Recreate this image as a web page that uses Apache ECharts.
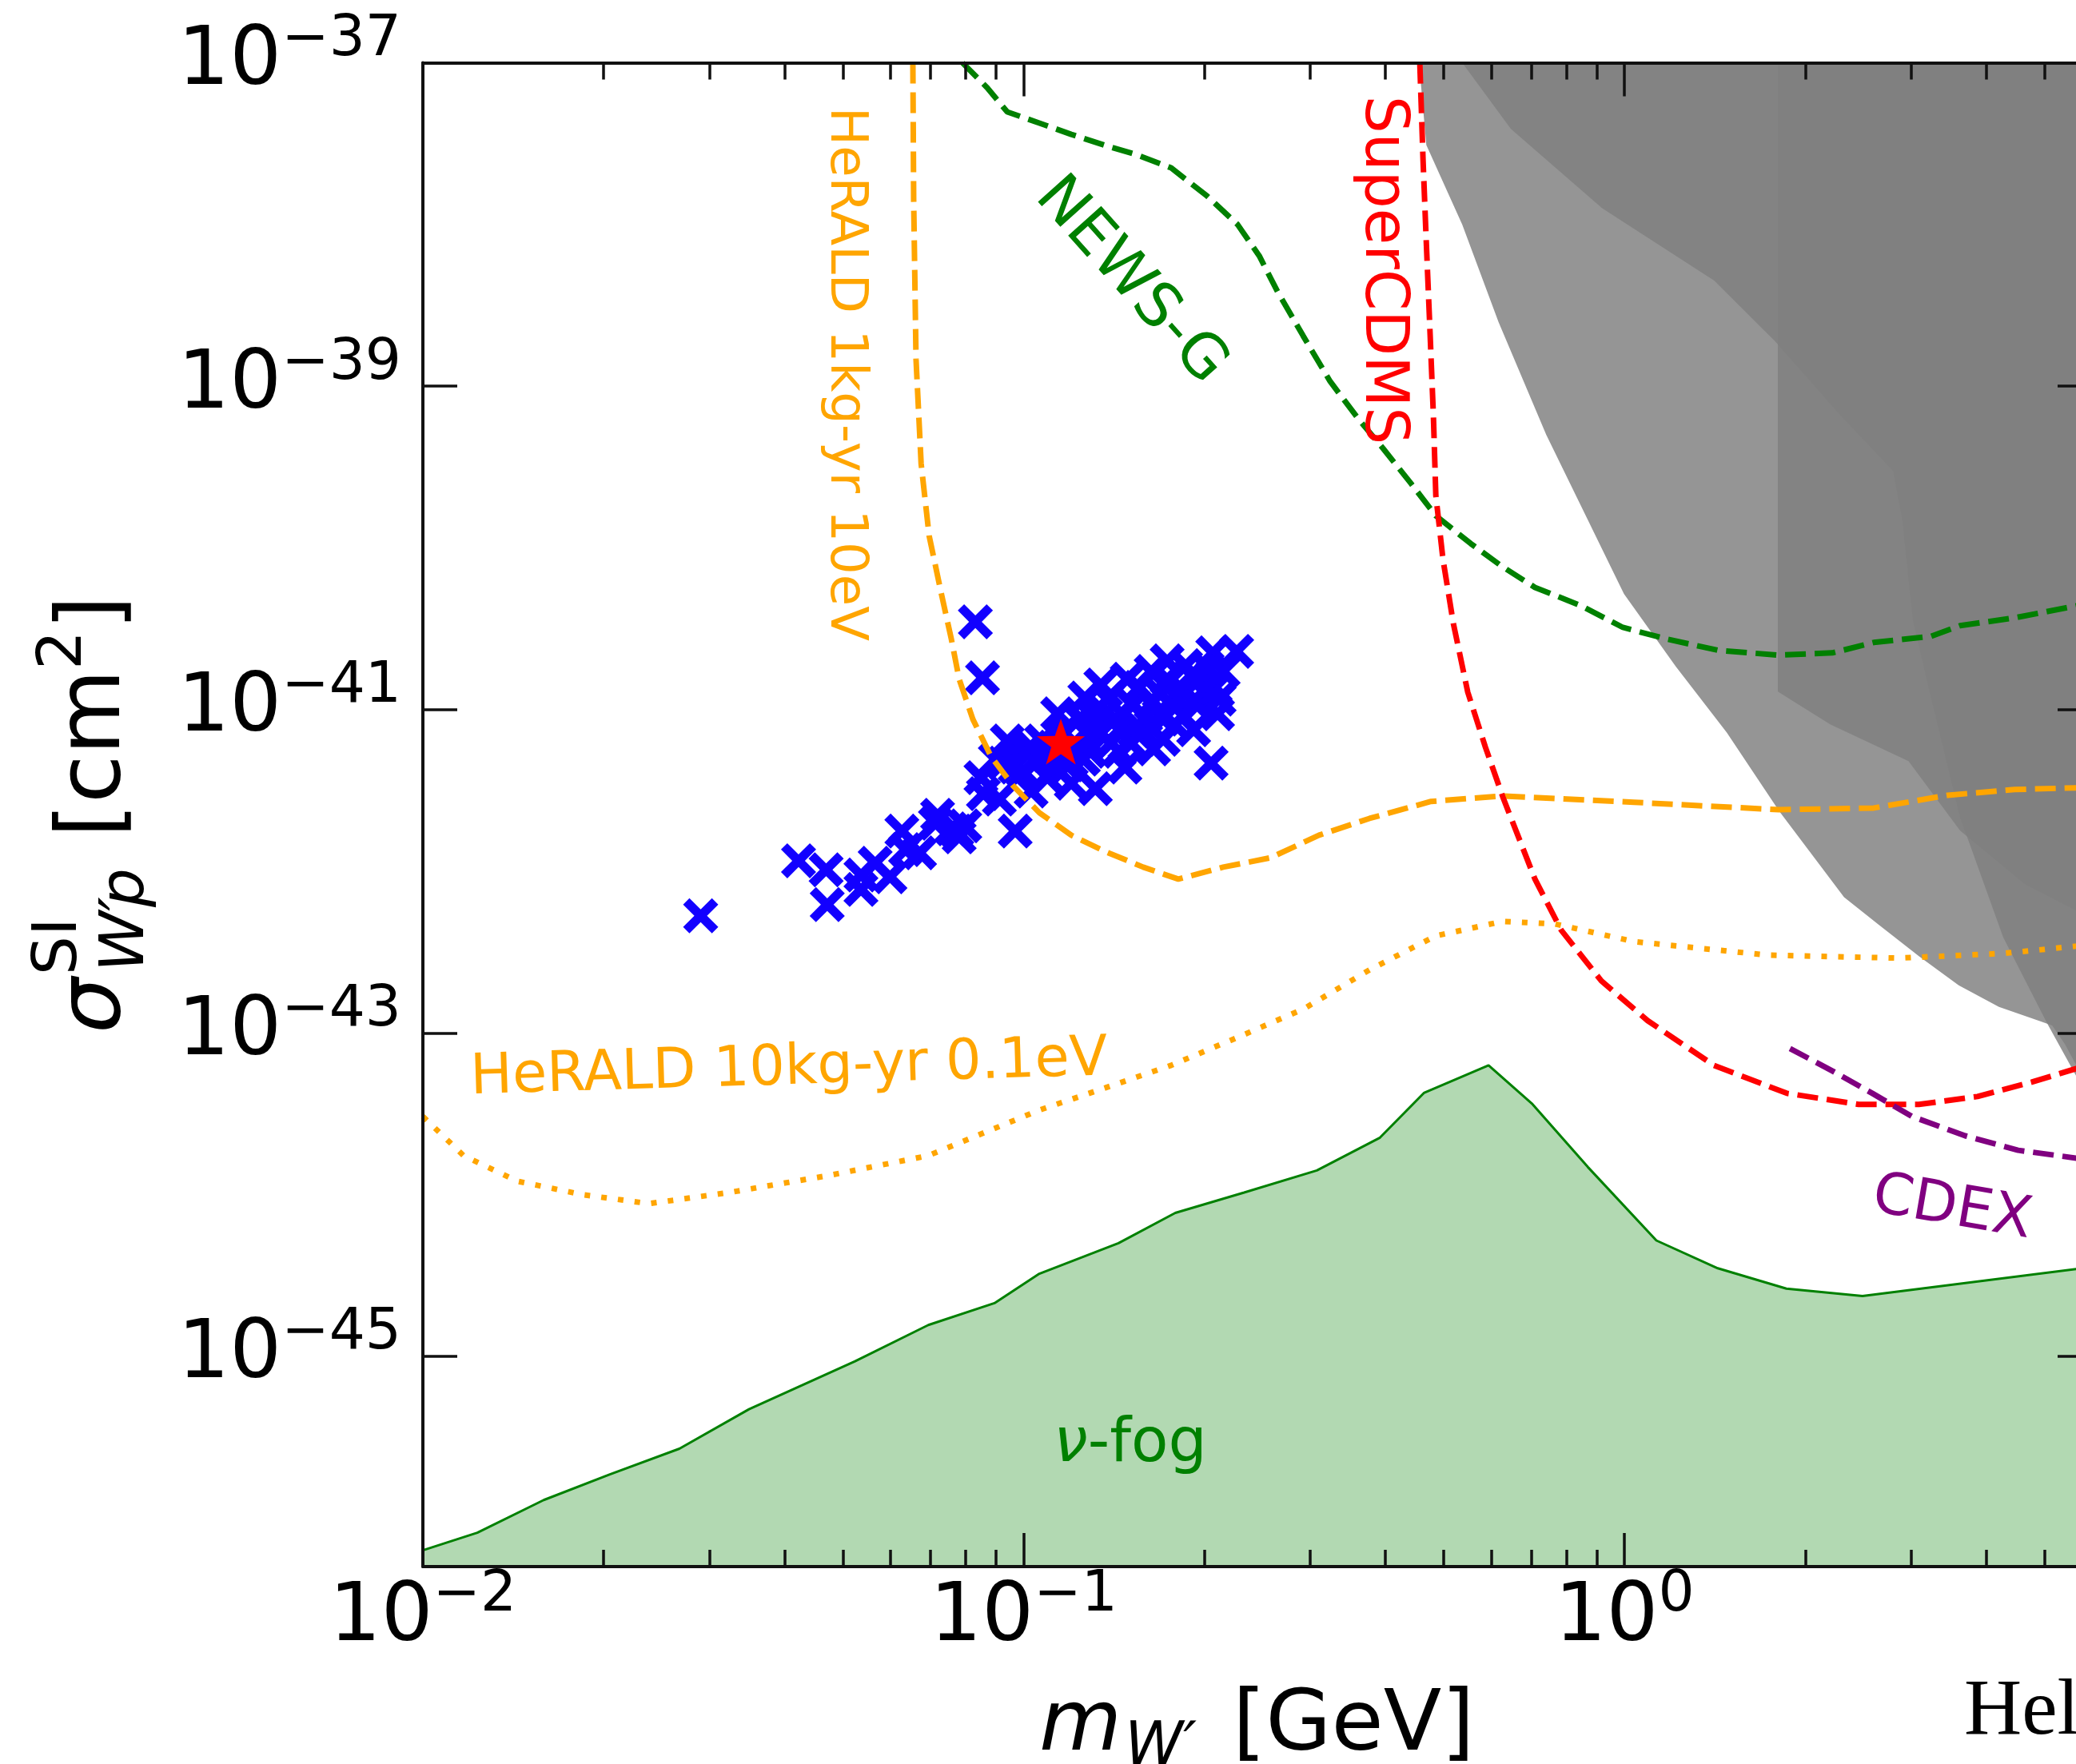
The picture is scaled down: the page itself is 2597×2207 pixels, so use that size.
<!DOCTYPE html>
<html>
<head>
<meta charset="utf-8">
<script src="https://cdn.jsdelivr.net/npm/echarts@6.0.0/dist/echarts.min.js"></script>
<style>
html, body { margin: 0; padding: 0; background: #fff; }
#chart { width: 2597px; height: 2207px; }
</style>
</head>
<body>
<div id="chart"></div>
<script>
// axis ranges and ticks (GeV, cm^2)
var xMin = 0.01, xMax = 6;
var yMin = 5e-47, yMax = 1e-37;
var xMajorTicks = [0.01, 0.1, 1];
var xMinorTicks = [0.02, 0.03, 0.04, 0.05, 0.06, 0.07, 0.08, 0.09,
                   0.2, 0.3, 0.4, 0.5, 0.6, 0.7, 0.8, 0.9, 2, 3, 4, 5, 6];
var yMajorTicks = [1e-45, 1e-43, 1e-41, 1e-39, 1e-37];

// neutrino fog
var fogMass = [0.01, 0.01232, 0.01589, 0.02048, 0.02673, 0.0349, 0.0524, 0.0694, 0.0894, 0.1062, 0.1438, 0.1788,
               0.2328, 0.3076, 0.3918, 0.4636, 0.594, 0.701, 0.869, 1.13, 1.43, 1.86, 2.49, 5.65, 6.0];
var fogSigma = [6.3e-47, 8.1e-47, 1.29e-46, 1.86e-46, 2.68e-46, 4.7e-46, 9.3e-46, 1.56e-45, 2.13e-45, 3.24e-45, 5.0e-45, 7.7e-45,
                1.03e-44, 1.41e-44, 2.25e-44, 4.25e-44, 6.3e-44, 3.66e-44, 1.48e-44, 5.2e-45, 3.5e-45, 2.62e-45, 2.36e-45, 3.46e-45, 3.55e-45];

// gray excluded regions
var grayAMass = [0.455, 0.468, 0.537, 0.617, 0.741, 0.998, 1.217, 1.48, 1.81, 2.32, 2.65, 3.09, 3.60, 4.20, 4.89, 5.15, 5.41, 5.65, 6.0];
var grayASigma = [1e-37, 3.1e-38, 1.0e-38, 2.5e-39, 5.0e-40, 5.2e-41, 1.85e-41, 7.2e-42, 2.35e-42, 6.9e-43, 4.67e-43, 2.98e-43,
                  1.97e-43, 1.45e-43, 1.19e-43, 1.11e-43, 8.5e-44, 6.3e-44, 4.1e-44];
var grayBMass = [1.80, 2.20, 2.97, 3.62, 4.64, 5.65, 6.0];
var grayBSigma = [1.29e-41, 8.1e-42, 4.8e-42, 1.78e-42, 8.3e-43, 5.7e-43, 5.2e-43];
var grayCMass = [0.537, 0.647, 0.918, 1.41, 1.78, 2.28, 2.80, 2.90, 3.02, 3.22, 3.62, 4.27, 5.05, 5.65, 6.0];
var grayCSigma = [1e-37, 3.9e-38, 1.26e-38, 4.5e-39, 1.9e-39, 6.7e-40, 3.0e-40, 1.5e-40, 3.6e-41, 1.29e-41, 2.15e-42, 3.9e-43,
                  1.15e-43, 5.4e-44, 4e-44];

// HeRALD 1kg-yr 10eV
var herald1Mass = [0.0654, 0.0656, 0.0662, 0.0675, 0.0696, 0.0728, 0.0758, 0.0781, 0.0823, 0.0883, 0.0960, 0.1062, 0.1200, 0.1369,
                   0.1581, 0.1809, 0.2148, 0.2574, 0.3102, 0.3763, 0.4764, 0.626, 1.037, 1.807, 2.60, 3.45, 4.46, 6.0];
var herald1Sigma = [1e-37, 1.42e-38, 1.46e-39, 3.32e-40, 1.19e-40, 5.38e-41, 2.72e-41, 1.54e-41, 8.71e-42, 5.10e-42, 3.38e-42, 2.30e-42,
                    1.67e-42, 1.32e-42, 1.06e-42, 8.93e-43, 1.06e-42, 1.21e-42, 1.67e-42, 2.12e-42, 2.70e-42, 2.92e-42, 2.67e-42,
                    2.40e-42, 2.46e-42, 2.95e-42, 3.20e-42, 3.30e-42];

// HeRALD 10kg-yr 0.1eV
var herald2Mass = [0.01, 0.01169, 0.01436, 0.01851, 0.0238, 0.03234, 0.04728, 0.06934, 0.1062, 0.1369, 0.1760, 0.2270, 0.2927,
                   0.3775, 0.4853, 0.626, 0.766, 1.037, 1.726, 2.86, 4.27, 5.65, 6.0];
var herald2Sigma = [3.04e-44, 1.74e-44, 1.21e-44, 9.96e-45, 8.79e-45, 1.03e-44, 1.31e-44, 1.74e-44, 3.33e-44, 4.58e-44, 6.30e-44,
                    9.38e-44, 1.41e-43, 2.47e-43, 3.98e-43, 4.89e-43, 4.72e-43, 3.67e-43, 3.03e-43, 2.90e-43, 3.10e-43, 3.44e-43, 3.6e-43];

// NEWS-G
var newsMass = [0.0791, 0.0870, 0.0939, 0.1062, 0.1200, 0.1369, 0.1533, 0.1760, 0.2020, 0.2270, 0.2466, 0.2646, 0.2918, 0.3237,
                0.3615, 0.3964, 0.4413, 0.4853, 0.5553, 0.626, 0.7096, 0.8474, 0.9938, 1.180, 1.436, 1.807, 2.218, 2.60, 3.24,
                3.62, 4.46, 5.65, 6.0];
var newsSigma = [1e-37, 7.0e-38, 4.97e-38, 4.24e-38, 3.61e-38, 3.08e-38, 2.72e-38, 2.24e-38, 1.50e-38, 1.0e-38, 6.41e-39, 3.84e-39,
                 2.05e-39, 1.07e-39, 6.21e-40, 4.12e-40, 2.50e-40, 1.58e-40, 1.06e-40, 7.66e-41, 5.69e-41, 4.38e-41, 3.22e-41,
                 2.72e-41, 2.32e-41, 2.17e-41, 2.24e-41, 2.60e-41, 2.84e-41, 3.30e-41, 3.69e-41, 4.38e-41, 4.69e-41];

// SuperCDMS
var cdmsMass = [0.4564, 0.4621, 0.4677, 0.4749, 0.4808, 0.4853, 0.4988, 0.5190, 0.5485, 0.5869, 0.628, 0.7096, 0.785, 0.915,
                1.093, 1.409, 1.863, 2.454, 3.09, 3.87, 4.76, 5.65, 6.0];
var cdmsSigma = [1e-37, 2.51e-38, 8.05e-39, 2.05e-39, 6.58e-40, 2.11e-40, 8.48e-41, 3.41e-41, 1.28e-41, 5.85e-42, 2.85e-42,
                 8.93e-43, 4.31e-43, 2.10e-43, 1.19e-43, 6.30e-44, 4.23e-44, 3.61e-44, 3.61e-44, 4.04e-44, 4.96e-44, 6.02e-44, 6.52e-44];

// CDEX
var cdexMass = [1.886, 2.218, 2.585, 3.01, 3.69, 4.52, 5.65, 6.0];
var cdexSigma = [8.0e-44, 5.82e-44, 4.23e-44, 3.04e-44, 2.31e-44, 1.88e-44, 1.68e-44, 1.63e-44];

// model points (blue crosses) and benchmark (red star)
var pointMass = [0.0290, 0.0422, 0.0469, 0.0471, 0.0536, 0.0536, 0.0566, 0.0599, 0.0627, 0.0636, 0.0671, 0.0713, 0.0719, 0.0758,
                 0.0774, 0.0781, 0.0798, 0.0857, 0.0831, 0.0854, 0.0849, 0.0968, 0.0939, 0.1008, 0.1139, 0.1237, 0.1344, 0.1487,
                 0.1630, 0.1733, 0.1860, 0.2064, 0.2262, 0.2102, 0.2051, 0.1918, 0.1645, 0.1474, 0.1316, 0.1200, 0.1095, 0.1442,
                 0.1596, 0.1771, 0.1787, 0.1288, 0.1369, 0.1071, 0.1860, 0.1681, 0.1519, 0.1959, 0.1264, 0.1189, 0.1029, 0.0911,
                 0.1062, 0.1164, 0.1398, 0.1533, 0.1707, 0.1959, 0.2083, 0.2020, 0.2148, 0.0968, 0.0897, 0.1288, 0.1115,
                 0.0925, 0.0998, 0.1029, 0.1095, 0.1129, 0.1218, 0.1257, 0.1336, 0.1420, 0.1442, 0.1510, 0.1581, 0.1630,
                 0.1707, 0.1787, 0.1843, 0.1929, 0.1989, 0.2115, 0.1900, 0.1733, 0.1557, 0.1378, 0.1296];
var pointSigma = [5.30e-43, 1.16e-42, 1.02e-42, 6.21e-43, 9.46e-43, 7.71e-43, 1.12e-42, 9.24e-43, 1.77e-42, 1.36e-42, 1.30e-42,
                  1.98e-42, 2.22e-42, 1.83e-42, 1.77e-42, 1.63e-42, 1.91e-42, 3.02e-42, 3.49e-41, 1.57e-41, 3.79e-42, 1.77e-42,
                  6.40e-42, 5.52e-42, 9.42e-42, 8.71e-42, 1.42e-41, 1.54e-41, 1.72e-41, 2.00e-41, 1.87e-41, 2.24e-41, 2.29e-41,
                  9.42e-42, 4.66e-42, 7.50e-42, 5.71e-42, 4.40e-42, 3.24e-42, 3.50e-42, 3.79e-42, 7.50e-42, 9.01e-42, 1.06e-41,
                  8.04e-42, 5.52e-42, 9.42e-42, 6.40e-42, 1.27e-41, 1.27e-41, 1.06e-41, 1.54e-41, 1.18e-41, 4.55e-42, 3.13e-42,
                  2.79e-42, 4.92e-42, 7.33e-42, 6.19e-42, 7.33e-42, 8.71e-42, 1.09e-41, 1.37e-41, 1.82e-41, 1.72e-41, 4.40e-42,
                  4.92e-42, 7.76e-42, 5.52e-42,
                  4.66e-42, 4.15e-42, 5.85e-42, 5.21e-42, 4.40e-42, 6.18e-42, 4.93e-42, 7.33e-42, 8.71e-42, 5.52e-42, 6.18e-42,
                  7.33e-42, 1.09e-41, 6.55e-42, 1.22e-41, 9.21e-42, 1.09e-41, 1.30e-41, 1.16e-41, 1.63e-41, 1.54e-41, 1.37e-41,
                  1.16e-41, 9.21e-42];
var starMass = [0.1153];
var starSigma = [6.33e-42];

var FONT = '"DejaVu Sans"';
var MID = 0.27; // canvas 'middle' baseline offset, in em
var chart = echarts.init(document.getElementById('chart'));

// the axes are value axes in decades, so tiny cross sections stay exact
var lg = Math.log10;
function pairs(xs, ys) {
    return xs.map(function (x, i) { return [lg(x), lg(ys[i])]; });
}

function powLabel(v) {
    var e = Math.round(v);
    return '{b|10}{s|' + (e < 0 ? '\u2212' + (-e) : e) + '}';
}

var tickRich = {
    b: { fontFamily: FONT, fontSize: 102, lineHeight: 102, color: '#000' },
    s: { fontFamily: FONT, fontSize: 71, lineHeight: 71, color: '#000', padding: [0, 0, 56, 0] }
};

var axisColor = '#111';

function xAxis(pos, ticks, len, main) {
    return {
        type: 'value', min: lg(xMin), max: lg(xMax), position: pos, z: 5,
        axisLine: { show: main, onZero: false, lineStyle: { color: axisColor, width: 4 } },
        axisTick: { show: true, inside: true, length: len, customValues: ticks.map(lg),
                    lineStyle: { color: axisColor, width: 3.5 } },
        axisLabel: (main && pos === 'bottom') ? {
            customValues: xMajorTicks.map(lg), formatter: powLabel, rich: tickRich, margin: 14
        } : { show: false },
        splitLine: { show: false }
    };
}

function yAxis(pos) {
    return {
        type: 'value', min: lg(yMin), max: lg(yMax), position: pos, z: 5,
        axisLine: { show: true, onZero: false, lineStyle: { color: axisColor, width: 4 } },
        axisTick: { show: true, inside: true, length: 43, customValues: yMajorTicks.map(lg),
                    lineStyle: { color: axisColor, width: 3.5 } },
        axisLabel: pos === 'left' ? {
            customValues: yMajorTicks.map(lg), formatter: powLabel, rich: tickRich, margin: 27
        } : { show: false },
        splitLine: { show: false }
    };
}

function region(xs, ys) {
    return {
        type: 'line', data: pairs(xs, ys), symbol: 'none', silent: true, z: 1,
        lineStyle: { width: 0, opacity: 0 },
        areaStyle: { origin: 'end', color: 'rgb(128,128,128)', opacity: 0.83 }
    };
}

function limit(xs, ys, color, dash, width) {
    return {
        type: 'line', data: pairs(xs, ys), symbol: 'none', silent: true, z: 4,
        lineStyle: { color: color, width: width, type: dash, cap: 'butt' }
    };
}

function label(x, y, text, size, color, rot) {
    return {
        type: 'text', x: x, y: y, rotation: rot || 0, z: 20, silent: true,
        style: { text: text, font: size + 'px ' + FONT, fill: color, align: 'center', verticalAlign: 'middle' }
    };
}

// text placed by its left end and its baseline
function piece(x, base, text, size, italic, family) {
    return {
        type: 'text', x: x, y: base - MID * size, silent: true,
        style: { text: text, font: (italic ? 'italic ' : '') + size + 'px ' + (family || FONT), fill: '#000',
                 align: 'left', verticalAlign: 'middle' }
    };
}

var crossPath = 'path://M0,18L18,0L50,32L82,0L100,18L68,50L100,82L82,100L50,68L18,100L0,82L32,50Z';
var starPath = 'path://M50,0L61.76,33.82L97.55,34.55L69.02,56.18L79.39,90.45L50,70L20.61,90.45L30.98,56.18L2.45,34.55L38.24,33.82Z';

var option = {
    animation: false,
    backgroundColor: '#fff',
    grid: { left: 529, top: 78.6, width: 2088, height: 1881.4, containLabel: false, outerBoundsMode: 'none' },
    xAxis: [
        xAxis('bottom', xMajorTicks, 42, true),
        xAxis('bottom', xMinorTicks, 21, false),
        xAxis('top', xMajorTicks, 42, true),
        xAxis('top', xMinorTicks, 21, false)
    ],
    yAxis: [yAxis('left'), yAxis('right')],
    series: [
        region(grayAMass, grayASigma),
        region(grayBMass, grayBSigma),
        region(grayCMass, grayCSigma),
        {
            type: 'line', data: pairs(fogMass, fogSigma), symbol: 'none', silent: true, z: 1,
            lineStyle: { color: '#008000', width: 3 },
            areaStyle: { origin: 'start', color: '#008000', opacity: 0.3 }
        },
        {
            type: 'scatter', data: pairs(pointMass, pointSigma), symbol: crossPath, symbolSize: 44,
            silent: true, z: 3, itemStyle: { color: '#1200ff', opacity: 1 }
        },
        limit(herald1Mass, herald1Sigma, '#ffa500', [26, 11], 7),
        limit(herald2Mass, herald2Sigma, '#ffa500', [7, 14], 7),
        limit(newsMass, newsSigma, '#008000', [26, 11], 7),
        limit(cdmsMass, cdmsSigma, '#ff0000', [26, 11], 7),
        limit(cdexMass, cdexSigma, '#800080', [26, 11], 7),
        {
            type: 'scatter', data: pairs(starMass, starSigma), symbol: starPath, symbolSize: 60,
            symbolKeepAspect: true, silent: true, z: 6, itemStyle: { color: '#ff0000', opacity: 1 }
        }
    ],
    graphic: [
        label(1057, 468, 'HeRALD 1kg-yr 10eV', 64, '#ffa500', -Math.PI / 2),
        label(1414, 352, 'NEWS-G', 76, '#008000', -0.84),
        label(1728, 338, 'SuperCDMS', 74, '#ff0000', -Math.PI / 2),
        label(987, 1338, 'HeRALD 10kg-yr 0.1eV', 70, '#ffa500', 0.03),
        label(2442, 1513, 'CDEX', 72, '#800080', -0.17),
        {
            type: 'text', x: 1414, y: 1808, z: 20, silent: true,
            style: {
                text: '{i|\u03bd}-fog', font: '76px ' + FONT, fill: '#008000', align: 'center', verticalAlign: 'middle',
                rich: { i: { fontFamily: FONT, fontStyle: 'italic', fontSize: 76, color: '#008000' } }
            }
        },
        // x axis name
        piece(1300, 2190, 'm', 106, true),
        piece(1407, 2208, 'W\u2032', 74, true),
        piece(1542, 2190, '[GeV]', 106, false),
        // y axis name, reads bottom to top
        {
            type: 'group', x: 150, y: 1293, rotation: Math.PI / 2, silent: true,
            children: [
                piece(0, 0, '\u03c3', 110, true),
                piece(73, -54, 'SI', 77, false),
                piece(77, 30, 'W\u2032', 77, true),
                piece(158, 30, 'p', 77, true),
                piece(245, 0, '[cm', 110, false),
                piece(455, -48, '2', 77, false),
                piece(505, 0, ']', 110, false)
            ]
        },
        piece(2457, 2170, 'Hel', 100, false, '"Liberation Serif"')
    ]
};

chart.setOption(option);
</script>
</body>
</html>
